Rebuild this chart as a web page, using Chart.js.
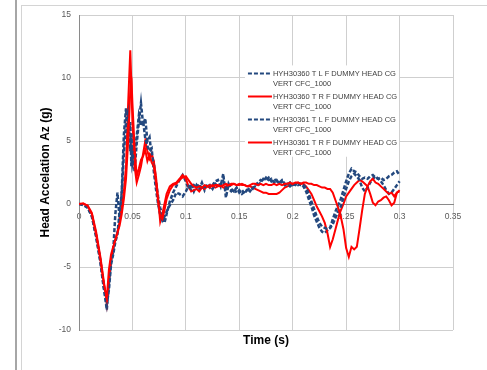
<!DOCTYPE html>
<html>
<head>
<meta charset="utf-8">
<script src="https://cdn.jsdelivr.net/npm/chart.js@4.4.1/dist/chart.umd.min.js"></script>
<style>
  html, body { margin: 0; padding: 0; background: #fff; width: 487px; height: 370px; overflow: hidden; }
  .bar { position: absolute; left: 15px; top: 0; width: 2px; height: 370px; background: #a6a6a6; }
  .frame { position: absolute; left: 21px; top: 5px; width: 480px; height: 380px;
           border-left: 1px solid #d4d4d4; border-top: 1px solid #d4d4d4; }
  .wrap { position: absolute; left: 0; top: 0; width: 465px; height: 364px; }
</style>
</head>
<body>
<div class="bar"></div>
<div class="frame"><div class="wrap"><canvas id="chartHead"></canvas></div></div>
<script>
// time (s)
const times = [
  0, 0.004, 0.008, 0.012, 0.016, 0.02, 0.023, 0.026, 0.028, 0.03,
  0.032, 0.034, 0.036, 0.038, 0.04, 0.042, 0.044, 0.046, 0.048, 0.049,
  0.05, 0.052, 0.054, 0.056, 0.058, 0.06, 0.062, 0.064, 0.066, 0.068,
  0.07, 0.072, 0.074, 0.076, 0.078, 0.08, 0.082, 0.085, 0.088, 0.091,
  0.094, 0.097,
  0.1, 0.1025, 0.105, 0.1075, 0.11, 0.1125, 0.115, 0.1175, 0.12, 0.1225,
  0.125, 0.1275, 0.13, 0.1325, 0.135, 0.1375, 0.14, 0.1425, 0.145, 0.1475,
  0.15, 0.1525, 0.155, 0.1575, 0.16, 0.1625, 0.165, 0.1675, 0.17, 0.1725,
  0.175, 0.1775, 0.18, 0.1825, 0.185, 0.1875, 0.19, 0.1925, 0.195, 0.1975,
  0.2, 0.2025, 0.205, 0.2075, 0.21,
  0.2125, 0.215, 0.2175, 0.22, 0.2225, 0.225, 0.2275, 0.23, 0.2325, 0.235,
  0.2375, 0.24, 0.2425, 0.245, 0.2475, 0.25, 0.2525, 0.255, 0.2575, 0.26,
  0.2625, 0.265, 0.2675, 0.27, 0.2725, 0.275, 0.2775, 0.28, 0.2825, 0.285,
  0.2875, 0.29, 0.2925, 0.295, 0.2975, 0.3
];

// head acceleration Az (g)
const tlf360 = [
  0, -0.1, -0.3, -0.9, -2.5, -4.5, -6.4, -8.4, -6.3, -4.5,
  -3.8, -0.8, 0.9, -1.2, 1.0, 5.5, 7.6, 5.0, 6.5, 3.0,
  4.5, 2.6, 4.8, 6.5, 8.0, 6.3, 6.8, 5.0, 5.3, 3.8,
  3.3, 1.8, 0.6, -0.3, -0.9, -1.5, -0.8, 0.2, 0.9, 1.4,
  1.9, 2.3,
  1.8, 1.2, 1.6, 1.0, 1.5, 1.2, 1.7, 1.1, 1.6, 1.3,
  1.5, 1.8, 1.9, 1.4, 2.4, 0.5, 1.6, 1.2, 1.0, 1.3,
  0.9, 1.1, 0.8, 1.2, 1.0, 1.3, 1.4, 1.5, 1.7, 2.0,
  1.9, 2.1, 1.8, 2.0, 1.8, 1.7, 1.9, 1.6, 1.5, 1.7,
  1.5, 1.6, 1.5, 1.6, 1.4,
  1.0, 0.4, -0.2, -0.9, -1.4, -1.9, -2.2, -2.3, -2.1, -1.9,
  -1.2, -0.6, -0.1, 0.4, 1.1, 1.8, 2.4, 2.8, 2.6, 2.5,
  2.2, 2.0, 2.1, 2.0, 2.2, 2.3, 2.1, 2.0, 2.1, 1.9,
  2.0, 2.2, 2.3, 2.5, 2.6, 2.3
];
const trf360 = [
  0, 0, -0.1, -0.7, -2.2, -4.2, -6.0, -7.9, -6.0, -4.4,
  -3.5, -2.8, -2.2, -1.4, -0.3, 1.0, 3.0, 8.0, 12.2, 9.5,
  6.5, 3.0, 1.7, 2.3, 3.0, 4.0, 5.0, 4.2, 3.6, 4.0,
  3.4, 2.2, 0.5, -1.4, -0.8, 0.0, 0.8, 1.4, 1.6, 1.7,
  2.0, 2.3,
  2.0, 1.4, 1.0, 1.1, 1.2, 1.0, 1.3, 1.2, 1.4, 1.3,
  1.5, 1.3, 1.4, 1.5, 1.3, 1.4, 1.5, 1.5, 1.6, 1.5,
  1.5, 1.6, 1.5, 1.4, 1.4, 1.3, 1.2, 1.1, 1.0, 0.9,
  0.9, 0.8, 0.8, 0.8, 0.8, 0.9, 1.1, 1.3, 1.4, 1.5,
  1.6, 1.6, 1.7, 1.6, 1.6,
  1.4, 1.1, 0.8, 0.3, -0.2, -0.6, -1.0, -1.5, -2.3, -3.4,
  -2.8, -2.0, -1.2, -0.5, 0.0, 0.6, 0.9, 1.2, 1.5, 1.7,
  1.9, 1.8, 1.6, 1.4, 0.8, 0.1, -0.1, 0.2, 0.3, 0.5,
  0.6, 0.3, -0.1, 0.1, 0.9, 1.1
];
const tlf361 = [
  0, -0.05, -0.25, -1.0, -2.6, -4.6, -6.6, -8.0, -6.8, -4.8,
  -4.0, -3.0, -2.4, -0.6, 0.8, 4.0, 6.6, 7.3, 4.2, 5.6,
  3.2, 4.0, 5.4, 7.0, 6.2, 6.6, 5.2, 4.6, 4.2, 4.4,
  2.6, 1.2, 0.0, -0.8, -1.3, -1.0, -0.6, -0.1, 0.3, 0.9,
  0.8, 0.6,
  1.0, 1.4, 1.2, 1.5, 1.3, 1.6, 1.2, 1.4, 1.3, 1.5,
  1.2, 1.6, 1.4, 1.5, 1.8, 1.3, 1.2, 1.0, 1.2, 0.9,
  1.1, 0.8, 1.0, 1.1, 1.3, 1.2, 1.5, 1.7, 1.9, 1.8,
  2.1, 1.9, 2.0, 1.7, 1.9, 1.6, 1.8, 1.5, 1.6, 1.4,
  1.6, 1.5, 1.7, 1.5, 1.5,
  1.3, 0.8, 0.2, -0.4, -1.0, -1.5, -1.8, -1.9, -2.0, -1.9,
  -1.6, -1.1, -0.6, -0.2, 0.5, 1.2, 1.8, 2.2, 2.4, 2.2,
  1.9, 1.3, 1.0, 1.3, 1.7, 2.0, 2.2, 2.0, 1.8, 1.5,
  1.1, 0.8, 0.9, 1.2, 1.5, 1.8
];
const trf361 = [
  0, 0.05, -0.15, -0.8, -2.4, -4.4, -6.2, -7.5, -5.2, -4.0,
  -3.4, -2.9, -2.3, -1.7, -0.8, 0.4, 2.0, 5.0, 9.0, 10.1,
  8.0, 4.5, 2.2, 2.8, 3.5, 3.8, 4.3, 3.4, 3.9, 3.3,
  3.0, 1.8, 0.2, -1.0, -1.2, -0.5, 0.4, 1.1, 1.5, 1.6,
  1.9, 2.1,
  2.2, 1.9, 1.6, 1.4, 1.3, 1.4, 1.3, 1.5, 1.4, 1.5,
  1.4, 1.5, 1.5, 1.4, 1.5, 1.6, 1.5, 1.6, 1.6, 1.5,
  1.6, 1.5, 1.5, 1.4, 1.5, 1.6, 1.6, 1.5, 1.6, 1.5,
  1.6, 1.5, 1.5, 1.6, 1.5, 1.6, 1.5, 1.6, 1.6, 1.7,
  1.6, 1.7, 1.7, 1.6, 1.7,
  1.7, 1.6, 1.6, 1.5, 1.5, 1.4, 1.3, 1.3, 1.2, 1.2,
  0.9, 0.3, -0.3, -1.0, -2.0, -3.5, -4.2, -3.4, -3.6, -3.4,
  -2.0, -0.5, 0.8, 1.4, 1.8, 2.0, 1.7, 1.6, 1.4, 1.2,
  1.0, 0.8, 0.9, 0.6, 0.9, 1.0
];

const seriesNames = [
  ['HYH30360 T L F DUMMY HEAD CG', 'VERT CFC_1000'],
  ['HYH30360 T R F DUMMY HEAD CG', 'VERT CFC_1000'],
  ['HYH30361 T L F DUMMY HEAD CG', 'VERT CFC_1000'],
  ['HYH30361 T R F DUMMY HEAD CG', 'VERT CFC_1000']
];
const xTicks = [0, 0.05, 0.1, 0.15, 0.2, 0.25, 0.3, 0.35];
const yTicks = [-10, -5, 0, 5, 10, 15];

(() => {
  const BLUE = '#23487e';
  const RED = '#ff0000';
  const GRID = '#cfcfcf';
  const AXIS = '#8a8a8a';
  const TICK = '#595959';

  const pts = vals => times.map((t, i) => ({ x: t, y: vals[i] }));

  const mk = (i, vals, color, dashed) => ({
    label: seriesNames[i].join(' '),
    data: pts(vals),
    borderColor: color,
    backgroundColor: color,
    borderWidth: dashed ? 2.5 : 2,
    borderDash: dashed ? [4, 2] : [],
    pointRadius: 0,
    tension: 0,
    fill: false,
    showLine: true,
    order: 4 - i
  });

  // no label overhang padding, the frame is set by layout.padding
  const noPad = s => { s.paddingTop = 0; s.paddingBottom = 0; };

  // legend drawn inside the plot, on a white box
  const boxLegend = {
    id: 'boxLegend',
    afterDatasetsDraw(chart) {
      const { ctx, scales: { x, y } } = chart;
      const left = x.getPixelForValue(0.1553);
      const right = x.getPixelForValue(0.2995);
      const top = y.getPixelForValue(11.0);
      const bottom = y.getPixelForValue(3.75);
      ctx.save();
      ctx.fillStyle = '#fff';
      ctx.fillRect(left, top, right - left, bottom - top);
      ctx.font = '7.5px "Liberation Sans", Arial, sans-serif';
      ctx.textBaseline = 'middle';
      ctx.fillStyle = '#404040';
      chart.data.datasets.forEach((ds, i) => {
        const ly = Math.round(top + 7.5 + i * 23) + 0.5;
        ctx.strokeStyle = ds.borderColor;
        ctx.lineWidth = 2;
        ctx.setLineDash(ds.borderDash);
        ctx.beginPath();
        ctx.moveTo(left + 3, ly);
        ctx.lineTo(left + 27, ly);
        ctx.stroke();
        ctx.setLineDash([]);
        ctx.fillText(seriesNames[i][0], left + 28, ly);
        ctx.fillText(seriesNames[i][1], left + 28, ly + 10);
      });
      ctx.restore();
    }
  };

  const tickFont = { family: '"Liberation Sans", Arial, sans-serif', size: 8.5 };
  const titleFont = { family: '"Liberation Sans", Arial, sans-serif', size: 12, weight: 'bold' };

  new Chart(document.getElementById('chartHead'), {
    type: 'scatter',
    data: {
      datasets: [
        mk(0, tlf360, BLUE, true),
        mk(1, trf360, RED, false),
        mk(2, tlf361, BLUE, true),
        mk(3, trf361, RED, false)
      ]
    },
    options: {
      responsive: true,
      maintainAspectRatio: false,
      animation: false,
      layout: { padding: { top: 9, right: 34, left: 0, bottom: 0 } },
      plugins: { legend: { display: false }, tooltip: { enabled: false } },
      scales: {
        x: {
          type: 'linear',
          position: { y: 0 },
          min: 0, max: 0.35,
          afterBuildTicks: s => { s.ticks = xTicks.map(v => ({ value: v })); },
          ticks: {
            font: tickFont, color: TICK, padding: 8, maxRotation: 0,
            callback: v => String(+Number(v).toFixed(2))
          },
          grid: { color: GRID, drawTicks: false },
          border: { color: AXIS },
          afterFit: noPad
        },
        xTitle: {
          type: 'linear',
          axis: 'x',
          position: 'bottom',
          min: 0, max: 0.35,
          ticks: { display: false },
          grid: { display: false, drawTicks: false },
          border: { display: false },
          title: { display: true, text: 'Time (s)', font: titleFont, color: '#000', padding: { top: 0, bottom: 22 } },
          afterFit: s => { s.height = 40; noPad(s); }
        },
        y: {
          type: 'linear',
          min: -10, max: 15,
          afterBuildTicks: s => { s.ticks = yTicks.map(v => ({ value: v })); },
          ticks: { font: tickFont, color: TICK, padding: 8 },
          grid: { color: GRID, drawTicks: false },
          border: { color: AXIS },
          title: { display: true, text: 'Head Accelation Az (g)', font: titleFont, color: '#000', padding: { top: 16, bottom: 0 } },
          afterFit: s => { s.width = 57; noPad(s); }
        }
      }
    },
    plugins: [boxLegend]
  });
})();
</script>
</body>
</html>
